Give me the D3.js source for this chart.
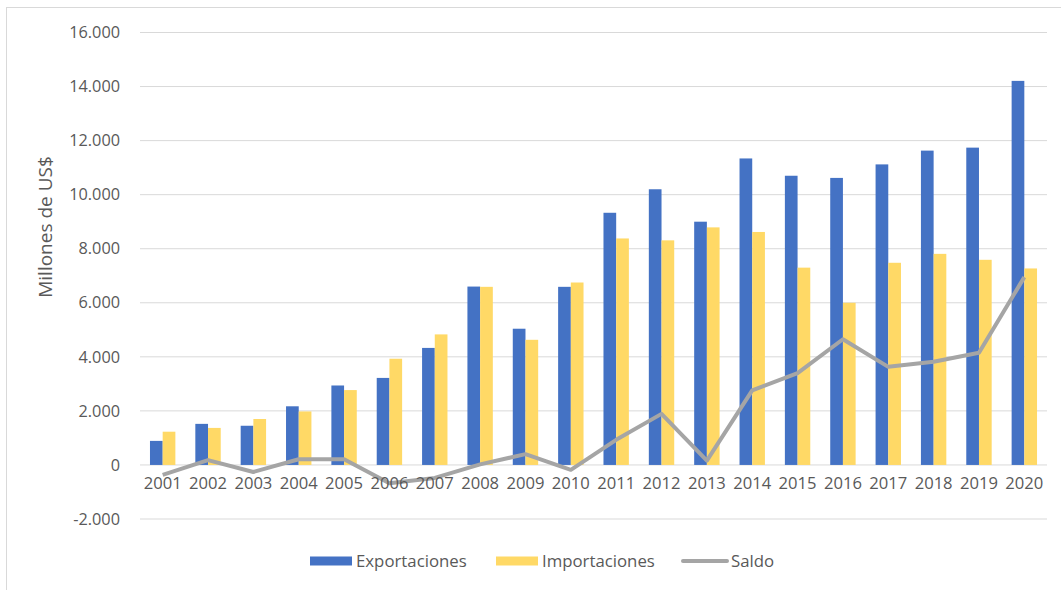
<!DOCTYPE html>
<html><head><meta charset="utf-8">
<script src="https://cdn.jsdelivr.net/npm/d3@7"></script>
<style>body{margin:0;background:#fff;}svg{display:block;font-family:"Open Sans",sans-serif;}</style>
</head><body>
<svg id="chart" width="1061" height="590"></svg>
<script>
const years = ["2001","2002","2003","2004","2005","2006","2007","2008","2009","2010","2011","2012","2013","2014","2015","2016","2017","2018","2019","2020"];
const exportaciones = [890,1520,1450,2170,2940,3220,4330,6600,5040,6590,9330,10200,9000,11340,10700,10620,11120,11630,11740,14210];
const importaciones = [1230,1370,1700,1980,2770,3930,4830,6590,4630,6750,8380,8310,8790,8620,7300,6000,7480,7810,7590,7270];
const saldo = [-370,180,-260,210,210,-680,-480,20,400,-180,930,1890,160,2760,3400,4650,3630,3820,4150,6950];
const yTicks = [-2000,0,2000,4000,6000,8000,10000,12000,14000,16000];
const seriesNames = ["Exportaciones","Importaciones","Saldo"];
const colors = ["#4472C4","#FFD966","#A5A5A5"];

(function(){
const svg = d3.select("#chart");
svg.append("rect").attr("x",6.5).attr("y",7.5).attr("width",1100).attr("height",700)
  .attr("fill","none").attr("stroke","#D9D9D9");

const pLeft = 140, pRight = 1047, pTop = 32.5, pBottom = 519;
const x = d3.scaleBand().domain(years).range([pLeft,pRight]).paddingInner(0.44).paddingOuter(0.22);
const y = d3.scaleLinear().domain([-2000,16000]).range([pBottom,pTop]);
const fmt = v => d3.format(",")(v).replace(/,/g,".").replace(/\u2212/g,"-");

svg.append("g").selectAll("line").data(yTicks).join("line")
  .attr("x1",pLeft).attr("x2",pRight).attr("y1",d=>y(d)).attr("y2",d=>y(d))
  .attr("stroke","#D9D9D9").attr("stroke-width",1);

const yAxis = d3.axisLeft(y).tickValues(yTicks).tickFormat(fmt).tickSize(0).tickPadding(0);
const ya = svg.append("g").attr("transform",`translate(${pLeft-20},0)`).call(yAxis);
ya.select(".domain").remove();
ya.selectAll("text").attr("fill","#595959").style("font-size","16.3px").style("font-family","'Open Sans',sans-serif");

const sub = d3.scaleBand().domain([0,1]).range([0,x.bandwidth()]);
const g = svg.append("g");
g.selectAll("rect.exp").data(years).join("rect").attr("class","exp")
  .attr("x",d=>x(d)+sub(0)).attr("width",sub.bandwidth())
  .attr("y",(d,i)=>y(exportaciones[i])).attr("height",(d,i)=>y(0)-y(exportaciones[i]))
  .attr("fill",colors[0]);
g.selectAll("rect.imp").data(years).join("rect").attr("class","imp")
  .attr("x",d=>x(d)+sub(1)).attr("width",sub.bandwidth())
  .attr("y",(d,i)=>y(importaciones[i])).attr("height",(d,i)=>y(0)-y(importaciones[i]))
  .attr("fill",colors[1]);

const line = d3.line().x((d,i)=>x(years[i])+x.bandwidth()/2).y(d=>y(d));
svg.append("path").datum(saldo).attr("d",line).attr("fill","none")
  .attr("stroke",colors[2]).attr("stroke-width",4).attr("stroke-linejoin","round");

const xAxis = d3.axisBottom(x).tickSize(0).tickPadding(0);
const xa = svg.append("g").attr("transform",`translate(0,${y(0)+12})`).call(xAxis);
xa.select(".domain").remove();
xa.selectAll("text").attr("fill","#595959").style("font-size","16.6px").style("font-family","'Open Sans',sans-serif");

svg.append("text").attr("transform","translate(52,227) rotate(-90)").attr("text-anchor","middle")
  .attr("fill","#595959").style("font-size","19px").text("Millones de US$");

const lg = svg.append("g").attr("transform","translate(0,561)");
const legendX = [310,496,683];
seriesNames.forEach((n,i)=>{
  if(i<2){
    lg.append("rect").attr("x",legendX[i]).attr("y",-4.5).attr("width",42).attr("height",9).attr("fill",colors[i]);
  } else {
    lg.append("line").attr("x1",legendX[i]).attr("x2",legendX[i]+44).attr("y1",0).attr("y2",0)
      .attr("stroke",colors[i]).attr("stroke-width",4).attr("stroke-linecap","round");
  }
  lg.append("text").attr("x",legendX[i]+(i<2?46:48)).attr("y",0).attr("dy","0.35em")
    .attr("fill","#595959").style("font-size","16.8px").text(n);
});
})();
</script>
</body></html>
